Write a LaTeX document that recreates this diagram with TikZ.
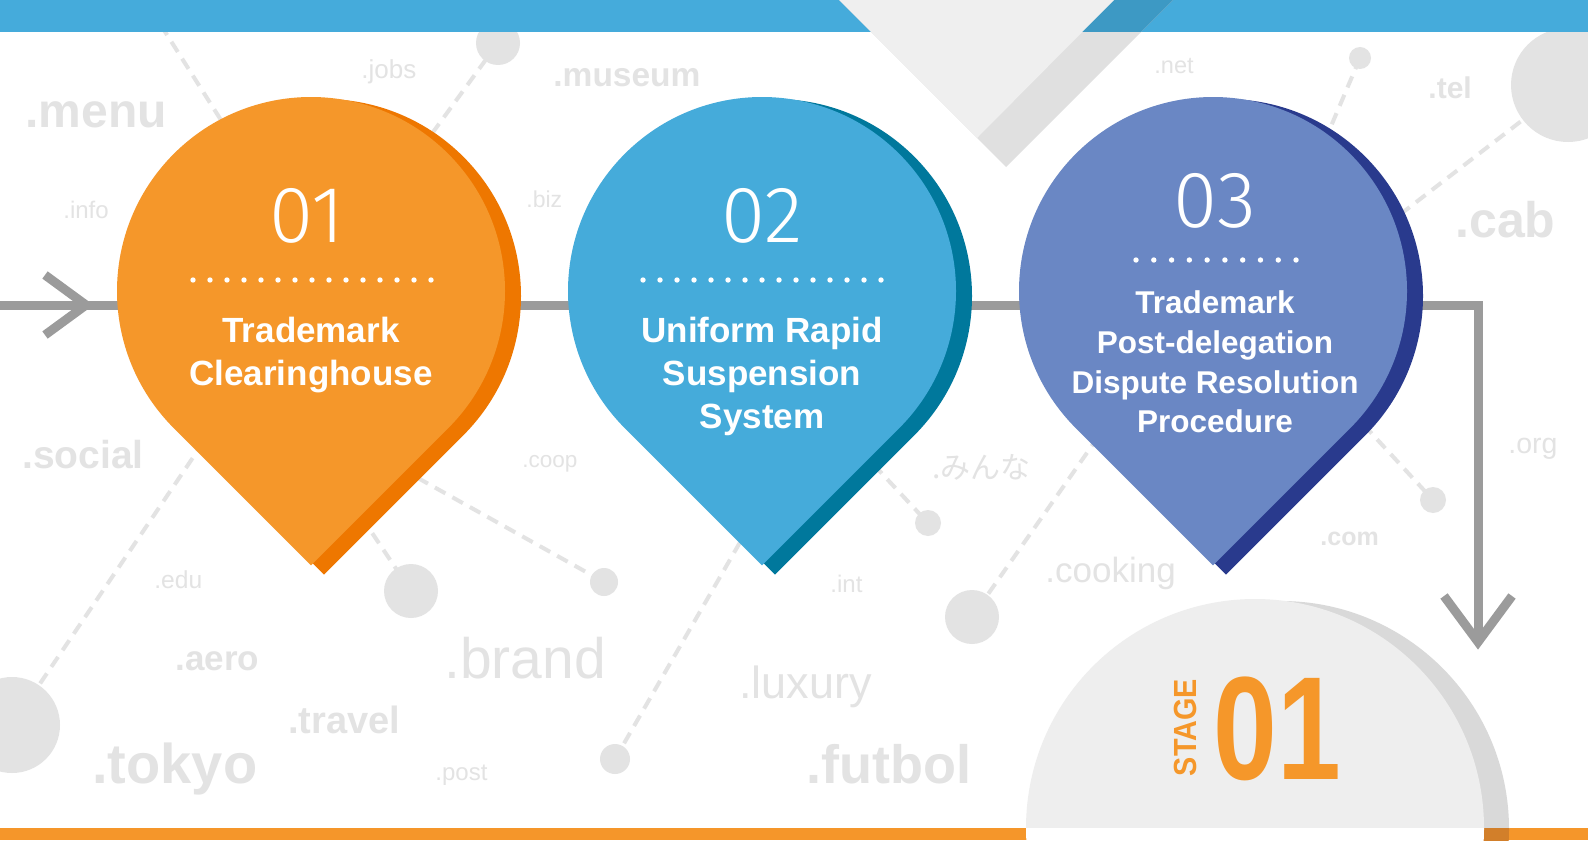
\documentclass[tikz,border=0pt]{standalone}
\usepackage{fontspec}
\setmainfont{Liberation Sans}
\newfontfamily\thinfont{Fira Sans Light}
\newfontfamily\jpfont{Noto Sans CJK JP}
\definecolor{tldgray}{HTML}{E3E3E3}
\definecolor{flowgray}{HTML}{9B9B9B}
\definecolor{barblue}{HTML}{45ABDB}
\definecolor{barbluedark}{HTML}{3D99C4}
\definecolor{trilight}{HTML}{EFEFEF}
\definecolor{tridark}{HTML}{E0E0E0}
\definecolor{orangelight}{HTML}{F5972A}
\definecolor{orangedark}{HTML}{EE7700}
\definecolor{bluelight}{HTML}{45ABDA}
\definecolor{bluedark}{HTML}{00789C}
\definecolor{purplelight}{HTML}{6A87C4}
\definecolor{purpledark}{HTML}{293A8D}
\definecolor{domelight}{HTML}{EEEEEE}
\definecolor{domedark}{HTML}{D9D9D9}
\definecolor{barorange}{HTML}{F5962A}
\definecolor{barorangedark}{HTML}{D27F2A}
\newcommand\pinshape[4]{%
  \fill[#4] (#1,#2) ++(0,{#3*1.41421}) -- ++({-#3*0.70711},{-#3*0.70711})
    arc[start angle=135,end angle=405,radius=#3] -- cycle;}
\begin{document}
\begin{tikzpicture}[x=0.5pt,y=-0.5pt,
  tld/.style={anchor=base west, inner sep=0pt, text=tldgray},
  pintext/.style={anchor=base, inner sep=0pt, text=white, font=\bfseries\fontsize{17.5}{20}\selectfont},
  pintextsm/.style={anchor=base, inner sep=0pt, text=white, font=\bfseries\fontsize{15.75}{18}\selectfont},
  pinnum/.style={anchor=base, inner sep=0pt, text=white, font=\thinfont\fontsize{40}{44}\selectfont},
  dashline/.style={draw=tldgray, line width=2pt, dash pattern=on 6pt off 4pt},
  flow/.style={draw=flowgray, line width=4.5pt},
  dotrow/.style={fill=white}]
\useasboundingbox (0,0) rectangle (1588,840);
\clip (0,0) rectangle (1588,840);
\fill[white] (0,0) rectangle (1588,840);

% ---- background dashed connectors and dots ----
\coordinate (aS) at (150,8);   \coordinate (aE) at (245,158);
\coordinate (cB) at (498,43);  \coordinate (bE) at (420,150);
\coordinate (cC) at (1360,58); \coordinate (cE) at (1320,152);
\coordinate (cD) at (1568,85); \coordinate (dE) at (1380,230);
\coordinate (cEE) at (12,725); \coordinate (eS) at (215,425);
\coordinate (cF) at (411,591); \coordinate (fS) at (350,500);
\coordinate (cG) at (604,582); \coordinate (gS) at (400,468);
\coordinate (cH) at (615,759); \coordinate (hS) at (750,525);
\coordinate (cI) at (928,523); \coordinate (iS) at (860,450);
\coordinate (cJ) at (972,617); \coordinate (jS) at (1110,420);
\coordinate (cK) at (1433,500); \coordinate (kS) at (1350,410);
\draw[dashline] (aS) -- (aE);
\draw[dashline] (cB) -- (bE);
\draw[dashline] (cC) -- (cE);
\draw[dashline] (cD) -- (dE);
\draw[dashline] (eS) -- (cEE);
\draw[dashline] (fS) -- (cF);
\draw[dashline] (gS) -- (cG);
\draw[dashline] (hS) -- (cH);
\draw[dashline] (iS) -- (cI);
\draw[dashline] (jS) -- (cJ);
\draw[dashline] (kS) -- (cK);
\fill[tldgray] (cB) circle[radius=22];
\fill[tldgray] (cC) circle[radius=11];
\fill[tldgray] (cD) circle[radius=57];
\fill[tldgray] (cEE) circle[radius=48];
\fill[tldgray] (cF) circle[radius=27];
\fill[tldgray] (cG) circle[radius=14];
\fill[tldgray] (cH) circle[radius=15];
\fill[tldgray] (cI) circle[radius=13];
\fill[tldgray] (cJ) circle[radius=27];
\fill[tldgray] (cK) circle[radius=13];

% ---- background domain names ----
\node[tld, font=\bfseries\fontsize{24}{24}\selectfont] (tmenu) at (25,127) {.menu};
\node[tld, font=\fontsize{13}{13}\selectfont] (tjobs) at (361,79) {.jobs};
\node[tld, font=\bfseries\fontsize{16.75}{17}\selectfont] (tmuseum) at (553,87) {.museum};
\node[tld, font=\fontsize{12}{12}\selectfont] (tinfo) at (63,218) {.info};
\node[tld, font=\fontsize{11.5}{12}\selectfont] (tbiz) at (526,207) {.biz};
\node[tld, font=\fontsize{11.75}{12}\selectfont] (tnet) at (1154,74) {.net};
\node[tld, font=\bfseries\fontsize{15}{15}\selectfont] (ttel) at (1428,98) {.tel};
\node[tld, font=\bfseries\fontsize{25}{25}\selectfont] (tcab) at (1455,237) {.cab};
\node[tld, font=\bfseries\fontsize{19.5}{20}\selectfont] (tsocial) at (22,468) {.social};
\node[tld, font=\fontsize{11.25}{12}\selectfont] (tcoop) at (522,467) {.coop};
\node[tld, font=\jpfont\fontsize{15}{15}\selectfont] (tminna) at (932,478) {.みんな};
\node[tld, font=\fontsize{14.25}{15}\selectfont] (torg) at (1508,453) {.org};
\node[tld, font=\bfseries\fontsize{12.5}{13}\selectfont] (tcom) at (1320,545) {.com};
\node[tld, font=\fontsize{12.3}{13}\selectfont] (tedu) at (154,588) {.edu};
\node[tld, font=\fontsize{12}{12}\selectfont] (tint) at (830,592) {.int};
\node[tld, font=\fontsize{17.5}{18}\selectfont] (tcooking) at (1045,582) {.cooking};
\node[tld, font=\bfseries\fontsize{17.5}{18}\selectfont] (taero) at (175,670) {.aero};
\node[tld, font=\fontsize{28.5}{29}\selectfont] (tbrand) at (444,678) {.brand};
\node[tld, font=\bfseries\fontsize{19}{19}\selectfont] (ttravel) at (288,733) {.travel};
\node[tld, font=\bfseries\fontsize{28}{28}\selectfont] (ttokyo) at (92,783) {.tokyo};
\node[tld, font=\fontsize{12}{12}\selectfont] (tpost) at (435,780) {.post};
\node[tld, font=\fontsize{22.5}{23}\selectfont] (tluxury) at (739,698) {.luxury};
\node[tld, font=\bfseries\fontsize{27}{27}\selectfont] (tfutbol) at (806,783) {.futbol};

% ---- top bar and triangle ----
\fill[barblue] (0,0) rectangle (1588,32);
\coordinate (trA) at (839,0); \coordinate (trB) at (1173,0); \coordinate (trC) at (1006,167);
\coordinate (trD) at (1114,0); \coordinate (trE) at (977,138);
\fill[tridark] (trA) -- (trB) -- (trC) -- cycle;
\begin{scope}
  \clip (0,0) rectangle (1588,32);
  \fill[barbluedark] (trA) -- (trB) -- (trC) -- cycle;
\end{scope}
\fill[trilight] (trA) -- (trD) -- (trE) -- cycle;

% ---- flow line ----
\coordinate (fstart) at (0,305);
\coordinate (fcorner) at (1478,305);
\coordinate (fend) at (1478,642);
\draw[flow, line join=miter] (fstart) -- (fcorner) -- (fend);
\coordinate (la1) at (45,275); \coordinate (ltip) at (86,305); \coordinate (la2) at (45,335);
\draw[flow, line join=miter] (la1) -- (ltip) -- (la2);
\coordinate (da1) at (1444,596); \coordinate (da2) at (1512,596);
\draw[flow, line join=miter] (da1) -- (fend) -- (da2);

% ---- pins ----
\coordinate (pin1) at (311,291);
\coordinate (pin2) at (762,291);
\coordinate (pin3) at (1213,291);
\pinshape{324}{296}{197}{orangedark}
\pinshape{311}{291}{194}{orangelight}
\pinshape{775}{296}{197}{bluedark}
\pinshape{762}{291}{194}{bluelight}
\pinshape{1226}{296}{197}{purpledark}
\pinshape{1213}{291}{194}{purplelight}

\foreach \i in {0,...,14} \fill[dotrow] ({193+17*\i},280) circle[radius=2.7];
\foreach \i in {0,...,14} \fill[dotrow] ({643+17*\i},280) circle[radius=2.7];
\foreach \i in {0,...,9} \fill[dotrow] ({1136+17.78*\i},260) circle[radius=2.7];

\node[pinnum] (n1) at (307,242) {01};
\node[pintext] (p1a) at (311,342) {Trademark};
\node[pintext] (p1b) at (311,385) {Clearinghouse};

\node[pinnum] (n2) at (762,242) {02};
\node[pintext] (p2a) at (762,342) {Uniform Rapid};
\node[pintext] (p2b) at (762,385) {Suspension};
\node[pintext] (p2c) at (762,428) {System};

\node[pinnum] (n3) at (1215,227) {03};
\node[pintextsm] (p3a) at (1215,313) {Trademark};
\node[pintextsm] (p3b) at (1215,353) {Post-delegation};
\node[pintextsm] (p3c) at (1215,393) {Dispute Resolution};
\node[pintextsm] (p3d) at (1215,432) {Procedure};

% ---- bottom bar and stage dome ----
\fill[barorange] (0,828) rectangle (1588,840);
\coordinate (domeD) at (1281,829);
\coordinate (domeL) at (1255,828);
\begin{scope}
  \clip (0,0) rectangle (1588,828);
  \fill[domedark] (domeD) circle[radius=228];
  \fill[domelight] (domeL) circle[radius=229];
\end{scope}
\begin{scope}
  \clip (0,828) rectangle (1588,840);
  \fill[barorangedark] (domeD) circle[radius=228];
  \fill[white] (domeL) circle[radius=229];
\end{scope}
\node[inner sep=0pt, text=orangelight, font=\bfseries\fontsize{16}{16}\selectfont, rotate=90] (tstage) at (1185,727.5) {\scalebox{0.9}[1]{STAGE}};
\node[inner sep=0pt, text=orangelight, font=\bfseries\fontsize{73.5}{74}\selectfont] (tstagenum) at (1277,728.5) {\scalebox{0.78}[1]{01}};
\end{tikzpicture}
\end{document}
